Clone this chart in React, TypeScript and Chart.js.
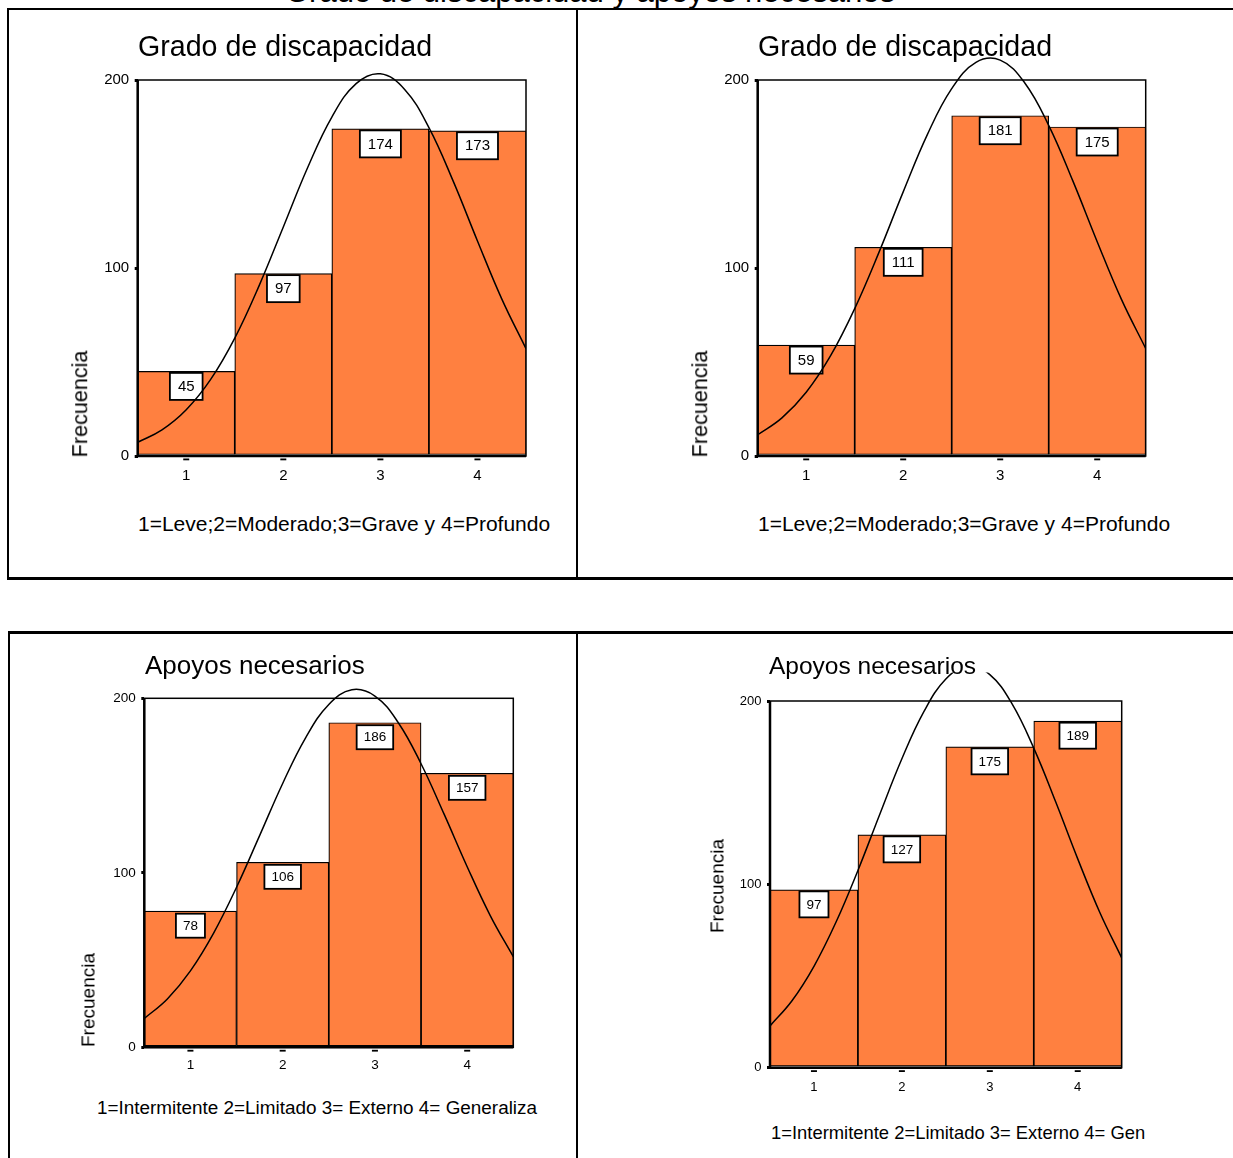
import React, { useEffect, useRef } from 'react';
import { Chart, registerables } from 'chart.js';

Chart.register(...registerables);

const FONT = '"Liberation Sans", Arial, Helvetica, sans-serif';

// ---------- data ----------
const X_VALUES = [1, 2, 3, 4];
const X_TICK_LABELS = ['1', '2', '3', '4'];
const Y_TICKS = [0, 100, 200];
const Y_TICK_LABELS = ['0', '100', '200'];

const GRADO_1 = [45, 97, 174, 173];
const GRADO_2 = [59, 111, 181, 175];
const APOYOS_1 = [78, 106, 186, 157];
const APOYOS_2 = [97, 127, 175, 189];

// normal curves
const CURVE_X = [0.5, 0.75, 1, 1.25, 1.5, 1.75, 2, 2.25, 2.5, 2.75, 3, 3.25, 3.5, 3.75, 4, 4.25, 4.5];
const CURVE_GRADO_1 = [7.3, 13.9, 24.6, 40.6, 62.7, 90.5, 121.8, 153.3, 180.3, 198.1, 203.3, 195.0, 174.7, 146.2, 114.4, 83.6, 57.1];
const CURVE_GRADO_2 = [11.3, 20.3, 33.9, 53.2, 78.4, 108.3, 140.5, 171.1, 195.4, 209.4, 210.6, 198.7, 175.9, 146.2, 114.0, 83.3, 57.2];
const CURVE_APOYOS_1 = [16.5, 27.7, 43.8, 65.3, 91.7, 121.3, 151.2, 177.5, 196.5, 204.9, 201.3, 186.3, 162.5, 133.6, 103.5, 75.5, 51.9];
const CURVE_APOYOS_2 = [22.8, 36.5, 55.3, 79.3, 107.6, 138.4, 168.5, 194.2, 212.0, 219.1, 214.4, 198.7, 174.3, 144.9, 113.9, 84.8, 59.9];

// ---------- text ----------
const MAIN_TITLE = 'Grado de discapacidad y apoyos necesarios';
const TITLE_GRADO = 'Grado de discapacidad';
const TITLE_APOYOS = 'Apoyos necesarios';
const CAPTION_GRADO = '1=Leve;2=Moderado;3=Grave y 4=Profundo';
const CAPTION_APOYOS_1 = '1=Intermitente 2=Limitado 3= Externo 4= Generaliza';
const CAPTION_APOYOS_2 = '1=Intermitente 2=Limitado 3= Externo 4= Gen';
const Y_LABEL = 'Frecuencia';

const BAR_COLOR = '#ff8040';

type PanelCfg = {
  counts: number[];
  curve: number[];
  L: number;
  R: number;
  y0: number;
  y200: number;
  yMax: number;
  tickFont: number;
  xLabelCenter: number;
  boxFont: number;
  boxPadX: number;
  boxH: number;
  boxGap: number;
};

const PANELS: PanelCfg[] = [
  { counts: GRADO_1, curve: CURVE_GRADO_1, L: 137.7, R: 526, y0: 456, y200: 80, yMax: 215, tickFont: 15, xLabelCenter: 475.5, boxFont: 15, boxPadX: 8, boxH: 27, boxGap: 1.5 },
  { counts: GRADO_2, curve: CURVE_GRADO_2, L: 757.7, R: 1145.7, y0: 456, y200: 80, yMax: 222, tickFont: 15, xLabelCenter: 475.5, boxFont: 15, boxPadX: 8, boxH: 27, boxGap: 1.5 },
  { counts: APOYOS_1, curve: CURVE_APOYOS_1, L: 144.3, R: 513.3, y0: 1047.3, y200: 698.3, yMax: 215, tickFont: 13.5, xLabelCenter: 1065, boxFont: 13.5, boxPadX: 7, boxH: 24, boxGap: 2.5 },
  { counts: APOYOS_2, curve: CURVE_APOYOS_2, L: 770, R: 1121.7, y0: 1067.7, y200: 701, yMax: 215.6, tickFont: 13, xLabelCenter: 1087, boxFont: 13.5, boxPadX: 7, boxH: 26, boxGap: 1.5 },
];

function makePlugin(cfg: PanelCfg) {
  return {
    id: 'spssFrame',
    beforeDatasetsDraw(chart: any) {
      const { ctx } = chart;
      const x = chart.scales.x;
      const y = chart.scales.y;
      const x0 = x.getPixelForValue(0.5);
      const x1 = x.getPixelForValue(4.5);
      const yTop = y.getPixelForValue(200);
      const yBot = y.getPixelForValue(0);
      ctx.save();
      ctx.fillStyle = '#fff';
      ctx.fillRect(x0, yTop, x1 - x0, yBot - yTop);
      ctx.strokeStyle = '#000';
      ctx.lineWidth = 1.5;
      ctx.strokeRect(x0, yTop, x1 - x0, yBot - yTop);
      ctx.restore();
    },
    afterDatasetDraw(chart: any, args: any) {
      if (args.meta.type !== 'bar') return;
      const { ctx } = chart;
      const ds = chart.data.datasets[args.index];
      ctx.save();
      ctx.font = `${cfg.boxFont}px ${FONT}`;
      args.meta.data.forEach((bar: any, i: number) => {
        const txt = String(ds.data[i].y);
        const tw = ctx.measureText(txt).width;
        const w = tw + cfg.boxPadX * 2;
        const h = cfg.boxH;
        const bx = bar.x - w / 2;
        const by = bar.y + cfg.boxGap;
        ctx.fillStyle = '#fff';
        ctx.fillRect(bx, by, w, h);
        ctx.strokeStyle = '#000';
        ctx.lineWidth = 1.8;
        ctx.strokeRect(bx, by, w, h);
        ctx.fillStyle = '#000';
        ctx.textAlign = 'center';
        ctx.textBaseline = 'middle';
        ctx.fillText(txt, bar.x, by + h / 2 + 0.5);
      });
      ctx.restore();
    },
    afterDatasetsDraw(chart: any) {
      const { ctx } = chart;
      const x = chart.scales.x;
      const y = chart.scales.y;
      const x0 = x.getPixelForValue(0.5);
      const x1 = x.getPixelForValue(4.5);
      const yTop = y.getPixelForValue(200);
      const yBot = y.getPixelForValue(0);
      ctx.save();
      ctx.strokeStyle = '#000';
      ctx.lineWidth = 2.5;
      ctx.beginPath();
      ctx.moveTo(x0, yTop);
      ctx.lineTo(x0, yBot + 1.2);
      ctx.moveTo(x0 - 1.2, yBot);
      ctx.lineTo(x1, yBot);
      ctx.stroke();
      ctx.fillStyle = '#000';
      X_VALUES.forEach((v) => {
        const px = x.getPixelForValue(v);
        ctx.fillRect(px - 3, yBot + 2.5, 6, 1.8);
      });
      ctx.restore();
    },
  };
}

function Panel({ cfg }: { cfg: PanelCfg }) {
  const ref = useRef<HTMLCanvasElement>(null);
  const ppu = (cfg.y0 - cfg.y200) / 200;
  const chartTop = cfg.y0 - cfg.yMax * ppu;
  const left = Math.floor(cfg.L - 60);
  const top = Math.floor(chartTop - 3);
  const yw = cfg.L - left;
  const padTop = chartTop - top;
  const width = Math.ceil(cfg.R - left + 6);
  const padRight = width - (cfg.R - left);
  const height = Math.ceil(cfg.y0 - top + 36);
  const xh = height - (cfg.y0 - top);
  const xPad = cfg.xLabelCenter - cfg.y0 - 0.6 * cfg.tickFont;

  useEffect(() => {
    if (!ref.current) return;
    const chart = new Chart(ref.current, {
      type: 'bar',
      data: {
        datasets: [
          {
            type: 'line',
            data: CURVE_X.map((xv, i) => ({ x: xv, y: cfg.curve[i] })),
            borderColor: '#000',
            borderWidth: 1.5,
            pointRadius: 0,
            tension: 0.4,
            fill: false,
            order: 0,
          } as any,
          {
            type: 'bar',
            data: X_VALUES.map((xv, i) => ({ x: xv, y: cfg.counts[i] })),
            backgroundColor: BAR_COLOR,
            borderColor: '#000',
            borderWidth: 1.2,
            borderSkipped: false,
            barPercentage: 1,
            categoryPercentage: 1,
            order: 1,
          } as any,
        ],
      },
      options: {
        responsive: false,
        animation: false,
        devicePixelRatio: 1,
        events: [],
        layout: { padding: { left: 0, top: padTop, right: padRight, bottom: 0 } },
        plugins: {
          legend: { display: false },
          tooltip: { enabled: false },
          title: { display: false },
        },
        scales: {
          x: {
            type: 'linear',
            min: 0.5,
            max: 4.5,
            offset: false,
            position: 'bottom',
            afterBuildTicks: (s: any) => {
              s.ticks = X_VALUES.map((v) => ({ value: v }));
            },
            ticks: {
              callback: (_v: any, i: number) => X_TICK_LABELS[i],
              font: { family: FONT, size: cfg.tickFont },
              color: '#000',
              padding: xPad,
              maxRotation: 0,
              autoSkip: false,
            },
            grid: { display: false, drawTicks: false },
            border: { display: false },
            afterFit: (s: any) => {
              s.height = xh;
              s.paddingLeft = 0;
              s.paddingRight = 0;
            },
          },
          y: {
            type: 'linear',
            min: 0,
            max: cfg.yMax,
            afterBuildTicks: (s: any) => {
              s.ticks = Y_TICKS.map((v) => ({ value: v }));
            },
            ticks: {
              callback: (_v: any, i: number) => Y_TICK_LABELS[i],
              font: { family: FONT, size: cfg.tickFont },
              color: '#000',
              padding: 5.5,
            },
            grid: {
              display: true,
              drawOnChartArea: false,
              drawTicks: true,
              tickLength: 3,
              lineWidth: 3,
              color: '#000',
            },
            border: { display: false },
            afterFit: (s: any) => {
              s.width = yw;
              s.paddingTop = 0;
              s.paddingBottom = 0;
            },
          },
        },
      } as any,
      plugins: [makePlugin(cfg)],
    });
    return () => chart.destroy();
  }, []);

  return (
    <canvas
      ref={ref}
      width={width}
      height={height}
      style={{ position: 'absolute', left, top, width, height }}
    />
  );
}

function Label({ x, baseline, size, text, center }: { x: number; baseline: number; size: number; text: string; center?: boolean }) {
  return (
    <div
      style={{
        position: 'absolute',
        left: x,
        top: baseline - 0.8465 * size,
        fontSize: size,
        lineHeight: `${size}px`,
        fontFamily: FONT,
        whiteSpace: 'nowrap',
        color: '#000',
        transform: center ? 'translateX(-50%)' : undefined,
      }}
    >
      {text}
    </div>
  );
}

function VLabel({ cx, cy, size, text }: { cx: number; cy: number; size: number; text: string }) {
  return (
    <div
      style={{
        position: 'absolute',
        left: cx,
        top: cy,
        fontSize: size,
        lineHeight: `${size}px`,
        fontFamily: FONT,
        whiteSpace: 'nowrap',
        color: '#000',
        transform: 'translate(-50%, -50%) rotate(-90deg)',
      }}
    >
      {text}
    </div>
  );
}

function Line({ x, y, w, h }: { x: number; y: number; w: number; h: number }) {
  return <div style={{ position: 'absolute', left: x, top: y, width: w, height: h, background: '#000' }} />;
}

export default function App() {
  return (
    <div
      style={{
        position: 'absolute',
        left: 0,
        top: 0,
        width: 1233,
        height: 1158,
        overflow: 'hidden',
        background: '#fff',
      }}
    >
      {PANELS.map((p, i) => (
        <Panel key={i} cfg={p} />
      ))}

      <Label x={590} baseline={2} size={31} text={MAIN_TITLE} center />

      <Label x={138} baseline={56} size={28.6} text={TITLE_GRADO} />
      <Label x={758} baseline={56} size={28.6} text={TITLE_GRADO} />
      <Label x={145} baseline={674.5} size={26} text={TITLE_APOYOS} />
      <Label x={769} baseline={675} size={24.5} text={TITLE_APOYOS} />

      <Label x={138} baseline={531} size={21} text={CAPTION_GRADO} />
      <Label x={758} baseline={531} size={21} text={CAPTION_GRADO} />
      <Label x={97} baseline={1115} size={18.9} text={CAPTION_APOYOS_1} />
      <Label x={771} baseline={1140} size={18.4} text={CAPTION_APOYOS_2} />

      <VLabel cx={79.5} cy={403.5} size={21.6} text={Y_LABEL} />
      <VLabel cx={699.5} cy={403.5} size={21.6} text={Y_LABEL} />
      <VLabel cx={88.4} cy={1000} size={19} text={Y_LABEL} />
      <VLabel cx={716.7} cy={886} size={19} text={Y_LABEL} />

      {/* table borders */}
      <Line x={7} y={8} w={1226} h={2} />
      <Line x={7} y={8} w={2} h={571} />
      <Line x={576} y={8} w={2} h={571} />
      <Line x={7} y={577} w={1226} h={2.5} />
      <Line x={8} y={631} w={1225} h={2.5} />
      <Line x={8} y={631} w={2} h={527} />
      <Line x={576} y={631} w={2} h={527} />
    </div>
  );
}
